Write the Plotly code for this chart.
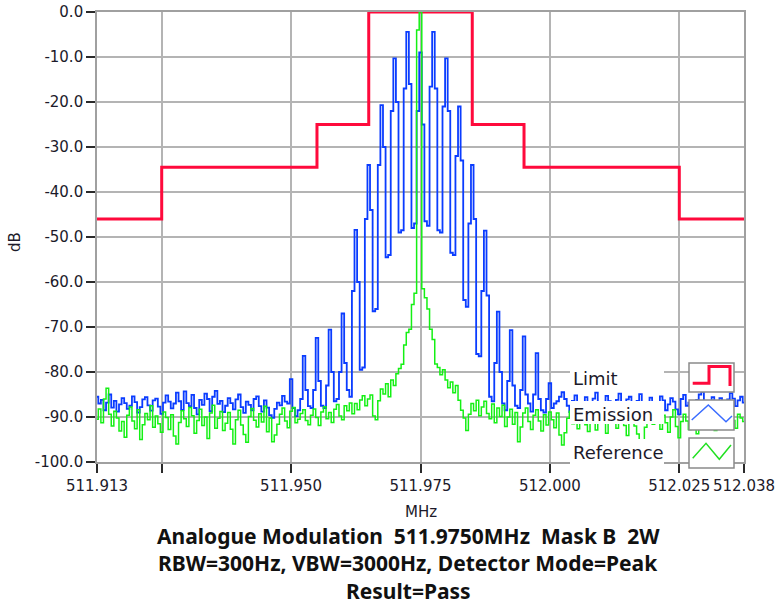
import plotly.graph_objects as go

# ---------------- data ----------------
F_START = 511.9125          # MHz, first trace sample
F_STEP = 0.0005             # MHz between trace samples
N_SAMPLES = 251

emission_db = [
    -85.5, -87.0, -86.2, -88.5, -86.8, -85.0, -87.9, -86.4, -88.8, -87.2,
    -85.8, -86.9, -88.2, -87.5, -85.4, -86.7, -89.0, -87.8, -86.1, -85.6,
    -87.4, -88.6, -86.3, -85.9, -87.7, -89.3, -86.8, -85.2, -86.6, -88.1,
    -87.0, -84.6, -86.5, -88.4, -84.3, -86.9, -87.6, -85.1, -88.0, -89.4,
    -86.2, -87.3, -84.8, -86.0, -88.7, -85.5, -84.2, -87.1, -86.4, -88.9,
    -87.5, -85.8, -86.9, -88.3, -86.1, -85.0, -87.8, -89.1, -86.6, -87.3,
    -88.5, -86.0, -85.4, -87.6, -88.8, -86.3, -87.9, -89.6, -90.2, -88.2,
    -86.8, -87.4, -85.3, -86.6, -87.0, -81.6, -88.0, -89.8, -88.5, -86.0,
    -76.4, -84.0, -87.6, -88.0, -84.0, -72.4, -82.0, -87.5, -88.0, -83.0,
    -70.6, -80.0, -86.5, -86.0, -80.0, -67.0, -78.0, -84.0, -85.5, -62.0,
    -48.4, -60.0, -79.5, -79.0, -46.0, -34.0, -44.0, -66.5, -66.0, -34.0,
    -20.7, -30.0, -54.5, -54.0, -22.0, -10.3, -20.0, -49.0, -48.5, -17.0,
    -4.4, -16.0, -48.0, -47.0, -22.0, -9.0, -25.0, -46.5, -47.5, -16.6,
    -4.4, -17.0, -48.5, -49.0, -21.0, -10.3, -22.0, -53.5, -54.0, -32.0,
    -21.0, -33.0, -64.0, -65.5, -47.0, -34.0, -46.0, -76.0, -76.5, -62.0,
    -48.6, -63.0, -85.5, -86.5, -78.0, -66.6, -80.0, -87.0, -88.5, -82.0,
    -70.7, -83.0, -87.5, -88.0, -84.0, -72.1, -85.0, -87.0, -88.8, -85.0,
    -75.8, -86.0, -88.5, -89.0, -86.0, -82.5, -88.0, -87.0, -86.5, -85.5,
    -84.5, -86.0, -87.5, -88.9, -86.4, -85.2, -87.8, -89.0, -86.7, -85.6,
    -88.2, -87.1, -85.9, -84.6, -86.8, -88.4, -87.0, -85.3, -86.5, -89.2,
    -87.7, -86.2, -84.8, -87.4, -88.6, -86.1, -85.5, -87.9, -88.8, -86.4,
    -84.9, -86.7, -88.0, -87.3, -85.7, -86.9, -89.1, -87.6, -85.4, -86.3,
    -88.5, -87.2, -85.8, -86.6, -88.3, -89.4, -86.0, -85.1, -87.5, -86.8,
    -88.7, -87.9, -86.2, -85.0, -84.4, -86.5, -88.1, -87.0, -85.6, -89.0,
    -86.9, -85.8, -87.3, -88.4, -86.1, -84.7, -85.9, -87.6, -86.3, -85.5, -86.8,
]

reference_db = [
    -90.5, -88.2, -91.3, -86.0, -83.6, -89.4, -92.0, -88.7, -90.2, -93.1,
    -91.0, -94.5, -89.6, -87.8, -90.9, -92.6, -88.4, -95.0, -91.7, -89.2,
    -90.6, -87.5, -92.3, -89.8, -91.5, -93.4, -88.9, -90.1, -92.8, -89.5,
    -94.2, -96.0, -91.2, -88.6, -90.4, -92.1, -87.9, -89.7, -93.6, -90.8,
    -88.3, -91.9, -90.0, -94.8, -89.1, -87.4, -92.5, -90.3, -88.8, -93.0,
    -91.4, -89.0, -92.7, -96.0, -90.6, -88.5, -91.8, -93.9, -95.6, -89.9,
    -88.1, -90.7, -92.2, -89.3, -91.1, -87.6, -93.3, -90.2, -95.5, -94.0,
    -91.6, -89.4, -88.0, -90.9, -92.4, -88.7, -87.9, -91.3, -90.5, -89.2,
    -88.4, -90.8, -91.7, -89.6, -88.2, -90.1, -91.9, -88.9, -87.7, -90.4,
    -89.0, -91.2, -88.3, -87.2, -89.8, -90.6, -87.5, -88.6, -86.9, -89.3,
    -87.0, -88.4, -86.2, -85.3, -87.5, -86.0, -85.1, -89.8, -90.6, -86.4,
    -83.8, -84.9, -82.6, -85.5, -81.8, -83.0, -80.4, -79.2, -78.3, -74.0,
    -71.2, -70.5, -65.0, -62.5, -4.0, 0.0, -61.5, -63.5, -66.0, -70.5,
    -72.8, -78.2, -79.0, -80.6, -79.5, -81.8, -83.5, -82.2, -84.6, -83.0,
    -86.3, -88.5, -90.2, -93.0, -89.4, -87.0, -88.6, -86.3, -89.7, -87.8,
    -86.5, -89.2, -90.4, -87.1, -91.3, -88.0, -89.9, -87.4, -92.1, -90.0,
    -88.3, -91.6, -89.0, -95.5, -92.2, -89.1, -88.0, -91.0, -92.8, -89.6,
    -88.4, -90.9, -93.1, -89.5, -91.8, -88.9, -90.6, -92.4, -89.1, -94.0,
    -96.2, -93.5, -90.3, -88.7, -91.5, -89.8, -92.6, -90.1, -88.4, -91.7,
    -93.2, -89.5, -90.8, -92.9, -88.9, -91.4, -90.0, -93.6, -89.2, -87.9,
    -91.1, -92.5, -90.4, -88.6, -91.9, -94.1, -90.7, -89.3, -92.0, -93.8,
    -95.9, -96.4, -92.3, -90.5, -89.0, -91.6, -88.8, -90.2, -92.7, -89.6,
    -91.3, -93.4, -90.0, -88.4, -92.1, -94.6, -91.0, -89.4, -90.9, -92.8,
    -88.6, -91.5, -93.7, -90.3, -89.1, -92.4, -90.6, -88.9, -91.8, -93.0,
    -89.7, -90.4, -92.2, -88.5, -91.1, -89.9, -90.8, -92.5, -89.4, -90.2, -91.0,
]

mask_freq = [511.9125, 511.925, 511.955, 511.965, 511.985, 511.995, 512.025, 512.0375]
mask_db = [-46.0, -34.5, -25.0, 0.0, -25.0, -34.5, -46.0, -46.0]

x_tickvals = [511.9125, 511.925, 511.950, 511.975, 512.000, 512.025, 512.0375]
x_ticktext = ["511.913", "", "511.950", "511.975", "512.000", "512.025", "512.038"]
y_tickvals = [0, -10, -20, -30, -40, -50, -60, -70, -80, -90, -100]
y_ticktext = ["0.0", "-10.0", "-20.0", "-30.0", "-40.0", "-50.0", "-60.0", "-70.0", "-80.0", "-90.0", "-100.0"]

legend_names = ["Limit", "Emission", "Reference"]
title_lines = [
    "Analogue Modulation  511.9750MHz  Mask B  2W",
    "RBW=300Hz, VBW=3000Hz, Detector Mode=Peak",
    "Result=Pass",
]

freq = [F_START + F_STEP * i for i in range(N_SAMPLES)]

# ---------------- styling ----------------
RED = "#ff0a3c"
BLUE = "#0a3cff"
GREEN = "#14f014"
TXT = "#1c1a2a"
GRID = "#b4b4b4"
W, H = 776, 604
PL, PR, PT, PB = 97, 744, 12, 462


def px(x):
    return (x - PL) / (PR - PL)


def py(y):
    return (PB - y) / (PB - PT)


fig = go.Figure()
fig.add_trace(go.Scatter(x=mask_freq, y=mask_db, mode="lines", line=dict(color=RED, width=3, shape="hv"),
                         name=legend_names[0], showlegend=False))
fig.add_trace(go.Scatter(x=freq, y=emission_db, mode="lines", line=dict(color=BLUE, width=1.8, shape="hvh"),
                         name=legend_names[1], showlegend=False))
fig.add_trace(go.Scatter(x=freq, y=reference_db, mode="lines", line=dict(color=GREEN, width=1.5, shape="hvh"),
                         name=legend_names[2], showlegend=False))

tickfont = dict(family="DejaVu Sans", size=15, color=TXT)
fig.update_xaxes(range=[511.9125, 512.0375], tickmode="array", tickvals=x_tickvals, ticktext=x_ticktext,
                 tickangle=0, automargin=False, showgrid=True, gridcolor=GRID, gridwidth=1.6, zeroline=False,
                 showline=True, linecolor="#a0a0a0", linewidth=1.6, mirror=True,
                 ticks="outside", ticklen=9, tickwidth=1.6, tickcolor="#2a2a2a", tickfont=tickfont)
fig.update_yaxes(range=[-100, 0], tickmode="array", tickvals=y_tickvals, ticktext=y_ticktext,
                 automargin=False, showgrid=True, gridcolor=GRID, gridwidth=1.6, zeroline=False,
                 showline=True, linecolor="#a0a0a0", linewidth=1.6, mirror=True,
                 ticks="outside", ticklen=9, tickwidth=1.6, tickcolor="#2a2a2a", tickfont=tickfont)

shapes = []
annotations = []
# legend label backgrounds
label_boxes = [(366, 391, 378), (401, 424, 414), (439, 465, 452)]
for (y0, y1, yc), name in zip(label_boxes, legend_names):
    shapes.append(dict(type="rect", xref="paper", yref="paper", x0=px(570), x1=px(664), y0=py(y1), y1=py(y0),
                       fillcolor="white", line=dict(width=0), layer="above"))
    annotations.append(dict(text=name, xref="paper", yref="paper", x=px(571), y=py(yc), xanchor="left",
                            yanchor="middle", showarrow=False, font=dict(family="DejaVu Sans", size=18, color=TXT)))
# legend symbol boxes
sym_boxes = [(363, 392), (400, 430), (438, 468)]
for y0, y1 in sym_boxes:
    shapes.append(dict(type="rect", xref="paper", yref="paper", x0=px(689), x1=px(734), y0=py(y1), y1=py(y0),
                       fillcolor="white", line=dict(color="#8a8a8a", width=1.5), layer="above"))


def path(points):
    return "M " + " L ".join(f"{px(a):.5f},{py(b):.5f}" for a, b in points)


shapes.append(dict(type="path", xref="paper", yref="paper", layer="above",
                   path=path([(692.7, 383.3), (709, 383.3), (709, 366.5), (730, 366.5), (730, 386)]),
                   line=dict(color=RED, width=3)))
shapes.append(dict(type="path", xref="paper", yref="paper", layer="above",
                   path=path([(691.7, 420), (708.3, 405), (726, 421.7), (732, 416)]),
                   line=dict(color="#3a6cff", width=1.5)))
shapes.append(dict(type="path", xref="paper", yref="paper", layer="above",
                   path=path([(692.7, 458.3), (706, 443.3), (719.3, 459.3), (731, 445)]),
                   line=dict(color="#22e022", width=1.5)))

# axis titles
annotations.append(dict(text="MHz", xref="paper", yref="paper", x=px(421), y=py(512), xanchor="center",
                        yanchor="middle", showarrow=False, font=dict(family="DejaVu Sans", size=15, color=TXT)))
annotations.append(dict(text="dB", xref="paper", yref="paper", x=px(15), y=py(242), xanchor="center",
                        yanchor="middle", textangle=-90, showarrow=False,
                        font=dict(family="DejaVu Sans", size=15, color=TXT)))
# bottom title lines
for line, yc in zip(title_lines, [536, 563, 591]):
    annotations.append(dict(text=line, xref="paper", yref="paper", x=px(408), y=py(yc), xanchor="center",
                            yanchor="middle", showarrow=False,
                            font=dict(family="Noto Sans", size=21, color="#111111", weight="bold")))

fig.update_layout(width=W, height=H, autosize=False, margin=dict(l=PL, r=W - PR, t=PT, b=H - PB),
                  paper_bgcolor="white", plot_bgcolor="white", showlegend=False,
                  shapes=shapes, annotations=annotations)

fig.write_html("out.html")
